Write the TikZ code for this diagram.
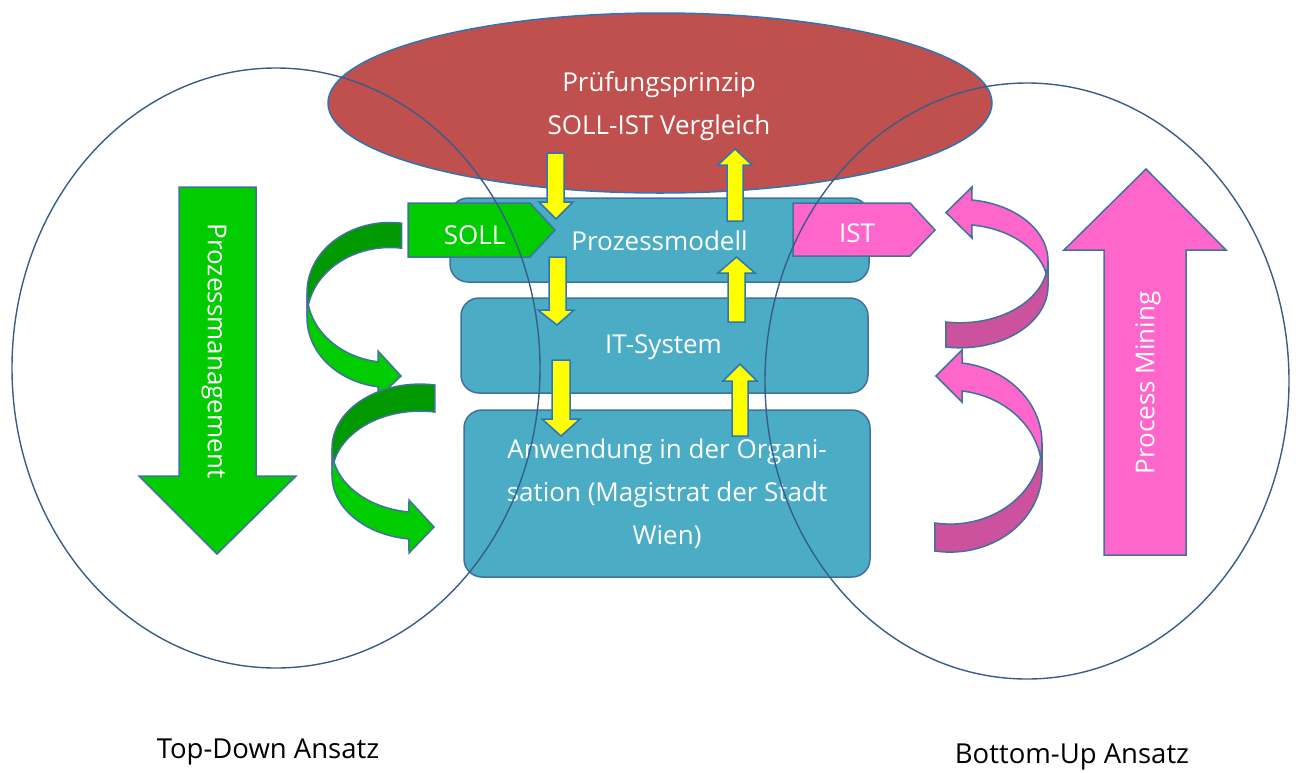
\documentclass[tikz,border=0pt]{standalone}
\usepackage{fontspec}
\setmainfont{Open Sans}
\usetikzlibrary{shapes.geometric}
\definecolor{redell}{HTML}{C0504D}
\definecolor{boxblue}{HTML}{4BACC6}
\definecolor{edgeblue}{HTML}{41719C}
\definecolor{circblue}{HTML}{385D8A}
\definecolor{ellblue}{HTML}{2E75B6}
\definecolor{glight}{HTML}{00CC00}
\definecolor{gdark}{HTML}{009900}
\definecolor{plight}{HTML}{FF66CC}
\definecolor{pdark}{HTML}{CC529E}
\definecolor{yel}{HTML}{FFFF00}
\definecolor{yedge}{HTML}{2E75B6}
\begin{document}
\begin{tikzpicture}[x=1pt,y=-1pt,
  txt/.style={font=\fontsize{26}{43}\selectfont, align=center, inner sep=0pt},
  wtxt/.style={txt, text=white},
  layerbox/.style={draw=edgeblue, line width=1.5pt, fill=boxblue, rounded corners=18pt, inner sep=0pt},
  yarrow/.style={fill=yel, draw=yedge, line width=1.5pt, line join=miter},
  shapeedge/.style={draw=edgeblue, line width=1.5pt, line join=miter},
  bigcirc/.style={ellipse, draw=circblue, line width=1.4pt, inner sep=0pt}
]
\useasboundingbox (0,0) rectangle (1296,772);

% red ellipse
\node[ellipse, fill=redell, draw=ellblue, line width=1.5pt, minimum width=664pt, minimum height=180pt, inner sep=0pt] (pruef) at (660,103) {};
\node[wtxt] (prueftext) at (659,106) {Prüfungsprinzip\\SOLL-IST Vergleich};

% layer boxes
\node[layerbox, minimum width=419pt, minimum height=84pt] (pm) at (659.5,240) {};
\node[wtxt] (pmtext) at (659.5,241) {Prozessmodell};
\node[layerbox, minimum width=407pt, minimum height=95pt] (its) at (664.5,345.5) {};
\node[wtxt] (itstext) at (663.5,347) {IT-System};
\node[layerbox, minimum width=406pt, minimum height=167pt] (anw) at (667,493.5) {};
\node[wtxt] (anwtext) at (667,494) {Anwendung in der Organi-\\sation (Magistrat der Stadt\\Wien)};

% SOLL / IST tags
\filldraw[fill=glight, shapeedge] (408,203) -- (530,203) -- (555,230) -- (530,257) -- (408,257) -- cycle;
\node[wtxt] (soll) at (474.5,235) {SOLL};
\filldraw[fill=plight, shapeedge] (793,203) -- (910,203) -- (935,230) -- (910,256) -- (793,256) -- cycle;
\node[wtxt] (ist) at (857,233) {IST};

% yellow arrows down
\filldraw[yarrow] (547,153) -- (564,153) -- (564,202) -- (573,202) -- (556,219) -- (539,202) -- (547,202) -- cycle;
\filldraw[yarrow] (549,257) -- (566,257) -- (566,310) -- (574,310) -- (557,325) -- (538,310) -- (549,310) -- cycle;
\filldraw[yarrow] (552,360) -- (570,360) -- (570,419) -- (580,419) -- (561,436) -- (542,419) -- (552,419) -- cycle;
% yellow arrows up
\filldraw[yarrow] (727,221) -- (743,221) -- (743,165) -- (752,165) -- (735,149) -- (718,165) -- (727,165) -- cycle;
\filldraw[yarrow] (728,322) -- (745,322) -- (745,273) -- (755,273) -- (736.5,257) -- (718,273) -- (728,273) -- cycle;
\filldraw[yarrow] (732,436) -- (748,436) -- (748,381) -- (757,381) -- (740,364) -- (723,381) -- (732,381) -- cycle;

% big arrows
\filldraw[fill=glight, shapeedge] (179,187) -- (256,187) -- (256,476) -- (296,476) -- (217,554) -- (139,476) -- (179,476) -- cycle;
\node[wtxt, rotate=-90] (pmgmt) at (214,351) {Prozessmanagement};
\filldraw[fill=plight, shapeedge] (1104,555) -- (1186,555) -- (1186,250) -- (1226,250) -- (1146,169) -- (1064,250) -- (1104,250) -- cycle;
\node[wtxt, rotate=90] (pmin) at (1148,383) {Process Mining};

% green curved arrow 1
\filldraw[fill=gdark, shapeedge]
  plot[domain=-82:-180, samples=40] ({390+83*cos(\x)},{292.5+70*sin(\x)})
  -- plot[domain=180:278, samples=40] ({390+83*cos(\x)},{317.5+70*sin(\x)}) -- cycle;
\filldraw[fill=glight, shapeedge]
  plot[domain=180:98.3, samples=40] ({390+83*cos(\x)},{292.5+70*sin(\x)})
  -- (378,351) -- (401,376) -- (378,398)
  -- plot[domain=98.3:180, samples=40] ({390+83*cos(\x)},{317.5+70*sin(\x)}) -- cycle;
% green curved arrow 2
\filldraw[fill=gdark, shapeedge]
  plot[domain=-80.2:-180, samples=40] ({420+88*cos(\x)},{448.3+64.2*sin(\x)})
  -- plot[domain=180:279.8, samples=40] ({420+88*cos(\x)},{475.3+64.2*sin(\x)}) -- cycle;
\filldraw[fill=glight, shapeedge]
  plot[domain=180:97.2, samples=40] ({420+88*cos(\x)},{448.3+64.2*sin(\x)})
  -- (409,500) -- (434,527) -- (409,553)
  -- plot[domain=97.2:180, samples=40] ({420+88*cos(\x)},{475.3+64.2*sin(\x)}) -- cycle;

% pink curved arrow 1
\filldraw[fill=plight, shapeedge]
  plot[domain=-82.2:0, samples=40] ({960+88*cos(\x)},{261.1+61.7*sin(\x)})
  -- plot[domain=0:-82.2, samples=40] ({960+88*cos(\x)},{286.1+61.7*sin(\x)})
  -- (972,238) -- (946,212.5) -- (972,187) -- cycle;
\filldraw[fill=pdark, shapeedge]
  plot[domain=0:99.2, samples=40] ({960+88*cos(\x)},{261.1+61.7*sin(\x)})
  -- plot[domain=99.2:0, samples=40] ({960+88*cos(\x)},{286.1+61.7*sin(\x)}) -- cycle;
% pink curved arrow 2
\filldraw[fill=plight, shapeedge]
  plot[domain=-82.5:0, samples=40] ({950+92*cos(\x)},{443.2+80.9*sin(\x)})
  -- plot[domain=0:-82.5, samples=40] ({950+92*cos(\x)},{471.2+80.9*sin(\x)})
  -- (962,402) -- (936,376) -- (962,350) -- cycle;
\filldraw[fill=pdark, shapeedge]
  plot[domain=0:99.4, samples=40] ({950+92*cos(\x)},{443.2+80.9*sin(\x)})
  -- plot[domain=99.4:0, samples=40] ({950+92*cos(\x)},{471.2+80.9*sin(\x)}) -- cycle;

% approach circles
\node[bigcirc, minimum width=528pt, minimum height=600pt] (topdown) at (276,368) {};
\node[bigcirc, minimum width=524pt, minimum height=596pt] (bottomup) at (1027,381) {};

% labels
\node[txt, font=\fontsize{27.5}{33}\selectfont] (tdlabel) at (268,752) {Top-Down Ansatz};
\node[txt, font=\fontsize{27.5}{33}\selectfont] (bulabel) at (1072,757) {Bottom-Up Ansatz};
\end{tikzpicture}
\end{document}
